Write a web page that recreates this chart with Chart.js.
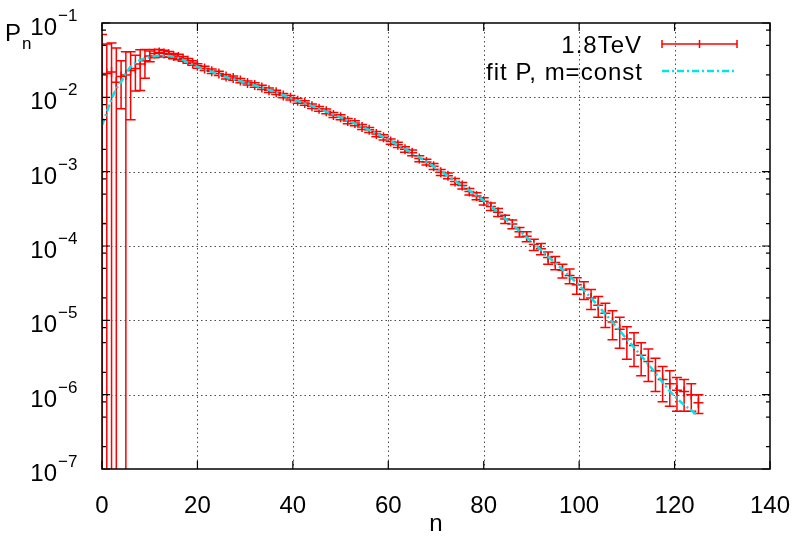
<!DOCTYPE html>
<html>
<head>
<meta charset="utf-8">
<script src="https://cdn.jsdelivr.net/npm/chart.js@4.4.1/dist/chart.umd.min.js"></script>
<style>
  html, body { margin: 0; padding: 0; background: #fff; }
  #c { display: block; }
</style>
</head>
<body>
<canvas id="c" width="798" height="536"></canvas>
<script>
// measured points, 1.8 TeV
var dataN = [0, 1, 2, 3, 4, 5, 6, 7, 8, 9, 10, 11, 12, 13, 14, 15, 16, 17, 18, 19, 20,
    21.5, 23, 24.5, 26, 27.5, 29, 30.5, 32, 33.5, 35, 36.5, 38, 39.5, 41, 42.5, 44, 45.5, 47, 48.5, 50,
    51.5, 53, 54.5, 56, 57.5, 59, 60.5, 62, 63.5, 65, 66.5, 68, 69.5, 71, 72.5, 74, 75.5, 77, 78.5, 80,
    81.5, 83, 84.5, 86, 87.5, 89, 90.5, 92, 93.5, 95, 96.5, 98, 99.5, 101, 102.5, 104, 105.5, 107, 108.5, 110,
    111.5, 113, 114.5, 116, 117.5, 119, 120.5, 122, 123.5, 125];
var dataP = [2.0e-4, 2.1e-2, 2.2e-2, 1.6e-2, 1.9e-2, 2.0e-2, 2.3e-2, 2.45e-2, 2.8e-2, 3.1e-2, 3.6e-2, 3.9e-2, 4.0e-2, 3.9e-2, 3.8e-2, 3.6e-2, 3.5e-2, 3.3e-2, 3.1e-2, 2.9e-2, 2.65e-2,
    2.45e-2, 2.25e-2, 2.1e-2, 1.9e-2, 1.82e-2, 1.68e-2, 1.56e-2, 1.47e-2, 1.36e-2, 1.25e-2, 1.17e-2, 1.06e-2, 9.9e-3, 9.0e-3, 8.4e-3, 7.6e-3, 7.0e-3, 6.5e-3, 5.8e-3, 5.4e-3,
    4.8e-3, 4.5e-3, 4.0e-3, 3.65e-3, 3.2e-3, 2.9e-3, 2.55e-3, 2.3e-3, 2.0e-3, 1.8e-3, 1.5e-3, 1.35e-3, 1.18e-3, 9.8e-4, 8.8e-4, 7.4e-4, 6.5e-4, 5.4e-4, 4.7e-4, 4.0e-4,
    3.4e-4, 2.85e-4, 2.3e-4, 1.97e-4, 1.55e-4, 1.35e-4, 1.05e-4, 9.2e-5, 7.0e-5, 6.0e-5, 4.7e-5, 4.0e-5, 3.0e-5, 2.6e-5, 2.0e-5, 1.6e-5, 1.25e-5, 9.5e-6, 7.6e-6, 5.6e-6,
    4.6e-6, 3.4e-6, 2.8e-6, 2.1e-6, 1.6e-6, 1.4e-6, 1.15e-6, 1.1e-6, 1.0e-6, 7.8e-7];
var dataErr = [7.0e-2, 3.1e-2, 3.2e-2, 3.0e-2, 1.2e-2, 2.1e-2, 1.8e-2, 1.23e-2, 1.56e-2, 1.3e-2, 6e-3, 5e-3, 4e-3, 4e-3, 3.5e-3, 3e-3, 3e-3, 2.5e-3, 2.2e-3, 2e-3, 1.8e-3,
    1.6e-3, 1.5e-3, 1.4e-3, 1.3e-3, 1.2e-3, 1.1e-3, 1.0e-3, 1.0e-3, 9e-4, 8.5e-4, 8e-4, 7e-4, 7e-4, 6.5e-4, 6e-4, 5.5e-4, 5e-4, 4.8e-4, 4.4e-4, 4.1e-4,
    3.8e-4, 3.5e-4, 3.2e-4, 2.9e-4, 2.6e-4, 2.4e-4, 2.1e-4, 1.9e-4, 1.7e-4, 1.6e-4, 1.4e-4, 1.2e-4, 1.1e-4, 9e-5, 8e-5, 7e-5, 6.5e-5, 5.5e-5, 5e-5, 4.5e-5,
    4e-5, 3.5e-5, 3e-5, 2.7e-5, 2.3e-5, 2.1e-5, 1.8e-5, 1.6e-5, 1.3e-5, 1.2e-5, 1.0e-5, 9e-6, 7.5e-6, 7e-6, 6e-6, 5e-6, 4.5e-6, 4e-6, 3.4e-6, 2.6e-6,
    2.2e-6, 1.6e-6, 1.3e-6, 1.0e-6, 8e-7, 7e-7, 5.5e-7, 5e-7, 4e-7, 2.2e-7];

// fit P, m=const
var fitN = [0, 1, 2, 3, 4, 5, 6, 8, 10, 12, 14, 16, 18, 20, 23, 26, 30, 35, 40, 45, 50, 55, 60, 65, 70, 75, 80, 85, 90, 95, 100, 105, 110, 115, 120, 125];
var fitP = [4.2e-3, 6.3e-3, 9.5e-3, 1.29e-2, 1.62e-2, 2.09e-2, 2.57e-2, 3.16e-2, 3.47e-2, 3.63e-2, 3.59e-2, 3.39e-2, 2.95e-2, 2.57e-2, 2.21e-2, 1.88e-2, 1.58e-2, 1.26e-2, 9.5e-3, 7.2e-3,
    5.37e-3, 3.89e-3, 2.69e-3, 1.78e-3, 1.12e-3, 6.8e-4, 4.07e-4, 2.19e-4, 1.15e-4, 5.9e-5, 2.95e-5, 1.32e-5, 5.6e-6, 2.34e-6, 9.5e-7, 5.2e-7];

var xTicks = [0, 20, 40, 60, 80, 100, 120, 140];
var yExps = [-1, -2, -3, -4, -5, -6, -7];
var yMinor = [2, 5, 8];
var seriesNames = ['1.8TeV', 'fit P, m=const'];

var FONT = '"Liberation Sans", Arial, Helvetica, sans-serif';
var RED = '#ff0000';
var CYAN = '#00e5e5';

var points = [], fitPts = [];
for (var i = 0; i < dataN.length; i++) points.push({x: dataN[i], y: dataP[i]});
for (var j = 0; j < fitN.length; j++) fitPts.push({x: fitN[j], y: fitP[j]});

var gnuplotLook = {
    id: 'gnuplotLook',
    beforeDatasetsDraw: function(chart) {
        var ctx = chart.ctx, a = chart.chartArea;
        var xs = chart.scales.x, ys = chart.scales.y;
        ctx.save();
        // dotted grid
        ctx.strokeStyle = 'rgba(0,0,0,0.7)';
        ctx.lineWidth = 1;
        ctx.setLineDash([1.5, 3]);
        xTicks.forEach(function(t) {
            var x = Math.round(xs.getPixelForValue(t)) + 0.5;
            if (x <= a.left + 2 || x >= a.right - 2) return;
            ctx.beginPath(); ctx.moveTo(x, a.top); ctx.lineTo(x, a.bottom); ctx.stroke();
        });
        yExps.forEach(function(e) {
            var y = Math.round(ys.getPixelForValue(Math.pow(10, e))) + 0.5;
            if (y <= a.top + 2 || y >= a.bottom - 2) return;
            ctx.beginPath(); ctx.moveTo(a.left, y); ctx.lineTo(a.right, y); ctx.stroke();
        });
        ctx.setLineDash([]);

        // error bars
        ctx.beginPath();
        ctx.rect(a.left, a.top, a.right - a.left, a.bottom - a.top);
        ctx.clip();
        ctx.strokeStyle = RED;
        ctx.lineWidth = 1.5;
        var cap = 5;
        for (var i = 0; i < dataN.length; i++) {
            var x = xs.getPixelForValue(dataN[i]);
            var hi = dataP[i] + dataErr[i];
            var lo = dataP[i] - dataErr[i];
            var yHi = ys.getPixelForValue(hi);
            var yLo = lo > 0 ? ys.getPixelForValue(lo) : a.bottom + 20;
            ctx.beginPath();
            ctx.moveTo(x, yHi); ctx.lineTo(x, yLo);
            ctx.moveTo(x - cap, yHi); ctx.lineTo(x + cap, yHi);
            if (lo > 0) { ctx.moveTo(x - cap, yLo); ctx.lineTo(x + cap, yLo); }
            ctx.stroke();
        }
        ctx.restore();
    },
    afterDatasetsDraw: function(chart) {
        var ctx = chart.ctx, a = chart.chartArea;
        var xs = chart.scales.x, ys = chart.scales.y;
        ctx.save();
        ctx.strokeStyle = '#000';
        ctx.lineWidth = 1.5;
        ctx.strokeRect(a.left, a.top, a.right - a.left, a.bottom - a.top);

        // inward ticks
        ctx.lineWidth = 1.2;
        ctx.beginPath();
        xTicks.forEach(function(t) {
            var x = xs.getPixelForValue(t);
            ctx.moveTo(x, a.bottom); ctx.lineTo(x, a.bottom - 8);
            ctx.moveTo(x, a.top); ctx.lineTo(x, a.top + 8);
        });
        yExps.forEach(function(e) {
            var y = ys.getPixelForValue(Math.pow(10, e));
            ctx.moveTo(a.left, y); ctx.lineTo(a.left + 8, y);
            ctx.moveTo(a.right, y); ctx.lineTo(a.right - 8, y);
            if (e === -1) return;
            yMinor.forEach(function(m) {
                var ym = ys.getPixelForValue(m * Math.pow(10, e));
                ctx.moveTo(a.left, ym); ctx.lineTo(a.left + 4, ym);
                ctx.moveTo(a.right, ym); ctx.lineTo(a.right - 4, ym);
            });
        });
        ctx.stroke();

        // tick labels
        ctx.fillStyle = '#000';
        ctx.textBaseline = 'alphabetic';
        ctx.font = '24px ' + FONT;
        ctx.textAlign = 'center';
        xTicks.forEach(function(t) {
            ctx.fillText(String(t), xs.getPixelForValue(t), 513);
        });
        ctx.fillText('n', (a.left + a.right) / 2, 531);

        yExps.forEach(function(e) {
            var y = ys.getPixelForValue(Math.pow(10, e));
            ctx.font = '24px ' + FONT;
            ctx.textAlign = 'right';
            ctx.fillText('10', 57, y + 12);
            ctx.font = '17px ' + FONT;
            ctx.textAlign = 'left';
            ctx.fillText('\u2212' + String(-e), 58, y - 2);
        });

        // axis title P_n
        ctx.textAlign = 'left';
        ctx.font = '24px ' + FONT;
        ctx.fillText('P', 5, 41);
        ctx.font = '17px ' + FONT;
        ctx.fillText('n', 22, 49);

        // legend
        ctx.font = '24px ' + FONT;
        ctx.textAlign = 'right';
        if ('letterSpacing' in ctx) ctx.letterSpacing = '1px';
        ctx.fillText(seriesNames[0], 642, 53);
        ctx.fillText(seriesNames[1], 643, 80);
        if ('letterSpacing' in ctx) ctx.letterSpacing = '0px';

        ctx.strokeStyle = RED;
        ctx.lineWidth = 1.5;
        ctx.beginPath();
        ctx.moveTo(662, 44); ctx.lineTo(737, 44);
        [662, 699.5, 737].forEach(function(x) {
            ctx.moveTo(x, 40); ctx.lineTo(x, 48);
        });
        ctx.stroke();

        ctx.strokeStyle = CYAN;
        ctx.lineWidth = 2.5;
        ctx.setLineDash([7, 3, 2, 3]);
        ctx.beginPath();
        ctx.moveTo(662, 71); ctx.lineTo(737, 71);
        ctx.stroke();
        ctx.restore();
    }
};

new Chart(document.getElementById('c').getContext('2d'), {
    type: 'scatter',
    data: {
        datasets: [
            {
                label: seriesNames[1],
                data: fitPts,
                showLine: true,
                borderColor: CYAN,
                borderWidth: 2.5,
                borderDash: [7, 3, 2, 3],
                pointRadius: 0,
                cubicInterpolationMode: 'monotone',
                fill: false
            },
            {
                label: seriesNames[0],
                data: points,
                showLine: false,
                pointStyle: 'cross',
                pointRadius: 5,
                borderColor: RED,
                backgroundColor: RED,
                borderWidth: 1.5
            }
        ]
    },
    options: {
        responsive: false,
        animation: false,
        devicePixelRatio: 1,
        layout: { padding: { top: 23, right: 28, left: 0, bottom: 0 } },
        plugins: { legend: { display: false }, tooltip: { enabled: false } },
        scales: {
            x: {
                type: 'linear', min: 0, max: 140,
                ticks: { display: false },
                grid: { display: false, drawTicks: false },
                border: { display: false },
                afterFit: function(s) { s.height = 67; }
            },
            y: {
                type: 'logarithmic', min: 1e-7, max: 1e-1,
                ticks: { display: false },
                grid: { display: false, drawTicks: false },
                border: { display: false },
                afterFit: function(s) { s.width = 102; }
            }
        }
    },
    plugins: [gnuplotLook]
});
</script>
</body>
</html>
